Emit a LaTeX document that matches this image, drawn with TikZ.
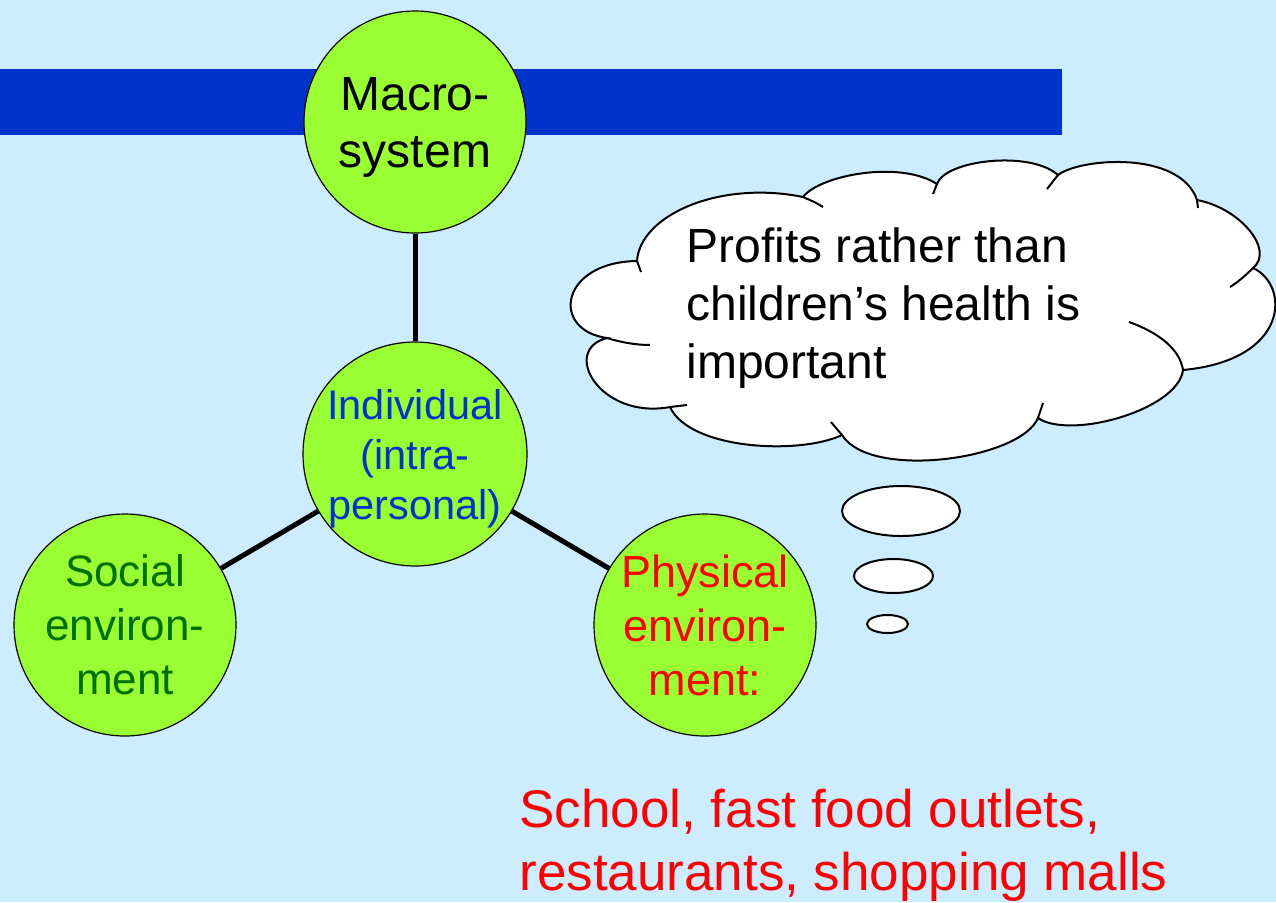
\documentclass[tikz,border=0pt]{standalone}
\usepackage{fontspec}
\setmainfont{Liberation Sans}
\begin{document}
\begin{tikzpicture}[
    x=0.5pt, y=-0.5pt,
    sphere/.style={
        circle,
        draw,
        line width=0.6pt,
        fill=limegreen,
        minimum size=111pt,
        inner sep=0pt,
        text depth=0pt,
        align=center
    },
    link/.style={line width=2.5pt},
    puff/.style={line width=1pt}
]

% colours
\definecolor{skyback}{RGB}{204,236,255}
\definecolor{barblue}{RGB}{0,51,204}
\definecolor{limegreen}{RGB}{153,255,51}
\definecolor{darkgreen}{RGB}{0,110,0}

% background and bar
\useasboundingbox (0,0) rectangle (1276,902);
\fill[skyback] (0,0) rectangle (1276,902);
\fill[barblue] (0,69) rectangle (1062,135);

% circles
\node[sphere, font=\fontsize{24pt}{28.5pt}\selectfont] (macro) at (415,122) {Macro-\\system};
\node[sphere, text=barblue, font=\fontsize{20.75pt}{25pt}\selectfont, minimum size=112pt] (indiv) at (415,454) {Individual\\(intra-\\personal)};
\node[sphere, text=darkgreen, font=\fontsize{22pt}{27pt}\selectfont] (social) at (125,625) {Social\\environ-\\ment};
\node[sphere, text=red, font=\fontsize{22.5pt}{27pt}\selectfont] (phys) at (705,625) {Physical\\environ-\\ment:};

% links
\draw[link] (macro) -- (indiv);
\draw[link] (indiv) -- (social);
\draw[link] (indiv) -- (phys);

% cloud
\draw[puff, fill=white] (637,261) .. controls (640,215) and (720,180) .. (803,197)
    .. controls (820,175) and (900,160) .. (937,184)
    .. controls (945,160) and (1030,150) .. (1058,175)
    .. controls (1080,158) and (1180,150) .. (1197,200)
    .. controls (1240,208) and (1275,250) .. (1253,268)
    .. controls (1290,285) and (1290,360) .. (1183,370)
    .. controls (1178,410) and (1070,440) .. (1038,418)
    .. controls (1020,460) and (870,480) .. (842,435)
    .. controls (800,455) and (690,450) .. (670,407)
    .. controls (600,420) and (560,350) .. (607,338)
    .. controls (550,330) and (560,262) .. (637,261) -- cycle;
\draw[puff] (637,261) -- (641,272);
\draw[puff] (803,197) .. controls (810,200) and (817,203) .. (823,207);
\draw[puff] (933,194) -- (937,184);
\draw[puff] (1047,189) -- (1058,175);
\draw[puff] (1197,200) -- (1198,208);
\draw[puff] (1253,268) .. controls (1245,276) and (1238,282) .. (1230,287);
\draw[puff] (1129,322) .. controls (1160,333) and (1180,350) .. (1183,370);
\draw[puff] (1038,418) -- (1043,403);
\draw[puff] (842,435) -- (831,422);
\draw[puff] (670,407) -- (687,405);
\draw[puff] (607,338) .. controls (620,342) and (635,345) .. (650,345);

% bubbles
\draw[puff, fill=white] (901,511) ellipse [x radius=59, y radius=25];
\draw[puff, fill=white] (893.5,576) ellipse [x radius=39.5, y radius=17];
\draw[puff, fill=white] (887.5,624) ellipse [x radius=20.5, y radius=9];

% texts (base = last line)
\node[anchor=base west, align=left, inner sep=0pt, font=\fontsize{24pt}{29pt}\selectfont] (profits) at (686,378) {Profits rather than\\children’s health is\\important};
\node[anchor=base west, align=left, inner sep=0pt, text=red, font=\fontsize{26.5pt}{31.5pt}\selectfont] (places) at (519,890) {School, fast food outlets,\\restaurants, shopping malls};

\end{tikzpicture}
\end{document}
